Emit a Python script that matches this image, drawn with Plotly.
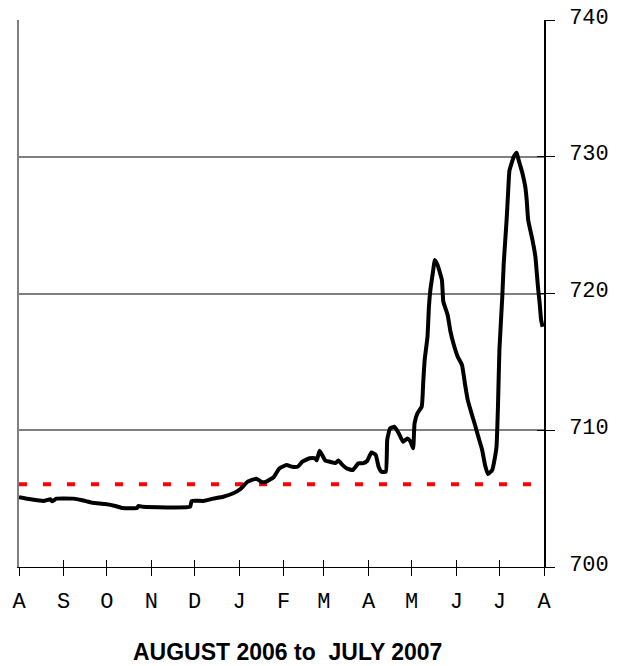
import plotly.graph_objects as go

# ---- data ----
dates = [
    "2006-08-01", "2006-08-09", "2006-08-18", "2006-08-23", "2006-08-24", "2006-08-27",
    "2006-09-08", "2006-09-14", "2006-09-21", "2006-09-30", "2006-10-07", "2006-10-12",
    "2006-10-22", "2006-10-23", "2006-10-26", "2006-11-28", "2006-11-29", "2006-12-07",
    "2006-12-14", "2006-12-21", "2006-12-28", "2007-01-02", "2007-01-07", "2007-01-13",
    "2007-01-17", "2007-01-20", "2007-01-25", "2007-01-29", "2007-02-03", "2007-02-07",
    "2007-02-11", "2007-02-14", "2007-02-19", "2007-02-23", "2007-02-24", "2007-02-26",
    "2007-03-02", "2007-03-05", "2007-03-09", "2007-03-11", "2007-03-14", "2007-03-17",
    "2007-03-21", "2007-03-25", "2007-03-28", "2007-03-31", "2007-04-03", "2007-04-06",
    "2007-04-08", "2007-04-10", "2007-04-13", "2007-04-14", "2007-04-16", "2007-04-19",
    "2007-04-22", "2007-04-25", "2007-04-28", "2007-04-30", "2007-05-02", "2007-05-03",
    "2007-05-05", "2007-05-08", "2007-05-09", "2007-05-10", "2007-05-12", "2007-05-13",
    "2007-05-14", "2007-05-16", "2007-05-17", "2007-05-19", "2007-05-22", "2007-05-23",
    "2007-05-26", "2007-05-28", "2007-05-30", "2007-06-02", "2007-06-05", "2007-06-07",
    "2007-06-09", "2007-06-12", "2007-06-14", "2007-06-16", "2007-06-19", "2007-06-21",
    "2007-06-23", "2007-06-26", "2007-06-28", "2007-06-29", "2007-06-30", "2007-07-01",
    "2007-07-03", "2007-07-04", "2007-07-06", "2007-07-07", "2007-07-08", "2007-07-11",
    "2007-07-13", "2007-07-14", "2007-07-17", "2007-07-19", "2007-07-20", "2007-07-21",
    "2007-07-24", "2007-07-26", "2007-07-27", "2007-07-28", "2007-07-29", "2007-07-30",
    "2007-07-31",
]
levels = [
    705.10, 704.95, 704.83, 704.95, 704.80, 705.00,
    705.00, 704.88, 704.70, 704.60, 704.46, 704.31,
    704.31, 704.46, 704.41, 704.41, 704.83, 704.83,
    705.00, 705.14, 705.39, 705.70, 706.24, 706.46,
    706.20, 706.25, 706.56, 707.20, 707.46, 707.33,
    707.35, 707.70, 707.95, 707.95, 707.80, 708.50,
    707.78, 707.70, 707.60, 707.78, 707.45, 707.20,
    707.09, 707.58, 707.58, 707.75, 708.38, 708.20,
    707.33, 706.97, 706.97, 709.30, 710.14, 710.26,
    709.78, 709.16, 709.40, 709.20, 708.68, 710.50,
    711.24, 711.73, 713.43, 715.10, 716.84, 719.03,
    720.26, 721.72, 722.45, 722.08, 720.99, 719.40,
    718.43, 717.20, 716.36, 715.38, 714.77, 713.43,
    712.20, 711.10, 710.40, 709.65, 708.56, 707.46,
    706.80, 707.09, 708.07, 708.80, 711.73, 715.87,
    719.77, 722.20, 725.37, 727.30, 729.00, 730.00,
    730.30, 729.90, 728.80, 727.80, 726.80, 725.37,
    723.90, 722.70, 721.48, 720.26, 719.28, 718.06,
    717.57,
]
reference_level = 706.05
reference_span = ["2006-08-01", "2007-07-28"]

month_ticks = [
    "2006-08-01", "2006-09-01", "2006-10-01", "2006-11-01", "2006-12-01",
    "2007-01-01", "2007-02-01", "2007-03-01", "2007-04-01", "2007-05-01",
    "2007-06-01", "2007-07-01", "2007-08-01",
]
month_labels = ["A", "S", "O", "N", "D", "J", "F", "M", "A", "M", "J", "J", "A"]
y_ticks = [700, 710, 720, 730, 740]
y_labels = ["700", "710", "720", "730", "740"]
x_range = ["2006-08-01", "2007-08-01"]
y_range = [700, 740]
title_text = "AUGUST 2006 to  JULY 2007"

mono = "Liberation Mono, Courier New, monospace"

fig = go.Figure()

fig.add_trace(go.Scatter(
    x=reference_span, y=[reference_level, reference_level],
    mode="lines", line=dict(color="#ff0000", width=4, dash="8px,16px"),
    hoverinfo="skip", showlegend=False,
))
fig.add_trace(go.Scatter(
    x=dates, y=levels, mode="lines",
    line=dict(color="black", width=4, shape="spline", smoothing=0.4),
    showlegend=False,
))
# helper (empty) traces so the overlay axes are drawn
fig.add_trace(go.Scatter(x=[], y=[], xaxis="x2", yaxis="y2", showlegend=False, hoverinfo="skip"))
fig.add_trace(go.Scatter(x=[], y=[], xaxis="x", yaxis="y3", showlegend=False, hoverinfo="skip"))

fig.update_layout(
    width=621, height=666,
    margin=dict(l=19, r=77, t=20, b=99),
    plot_bgcolor="white", paper_bgcolor="white",
    showlegend=False,
    xaxis=dict(
        type="date", range=x_range, automargin=False,
        tickmode="array", tickvals=month_ticks, ticktext=month_labels,
        ticks="outside", ticklen=8, tickwidth=1, tickcolor="black",
        showline=True, linecolor="black", linewidth=1,
        showgrid=False, zeroline=False,
        tickfont=dict(family=mono, size=22, color="black"),
        ticklabelstandoff=6,
    ),
    xaxis2=dict(
        type="date", range=x_range, overlaying="x", anchor="y", side="bottom",
        automargin=False,
        tickmode="array", tickvals=month_ticks,
        ticks="inside", ticklen=7, tickwidth=1, tickcolor="black",
        showticklabels=False, showline=False, showgrid=False, zeroline=False,
    ),
    yaxis=dict(
        range=y_range, side="right", automargin=False,
        tickmode="array", tickvals=y_ticks, ticktext=y_labels,
        ticks="outside", ticklen=9, tickwidth=1, tickcolor="black",
        showline=True, linecolor="black", linewidth=1.5,
        showgrid=True, gridcolor="#808080", gridwidth=1.5,
        zeroline=False,
        tickfont=dict(family=mono, size=22, color="black"),
        ticklabelstandoff=10, ticklabelshift=-4,
    ),
    yaxis2=dict(
        range=y_range, overlaying="y", side="left", anchor="x", automargin=False,
        showline=True, linecolor="#808080", linewidth=2,
        showticklabels=False, ticks="", showgrid=False, zeroline=False,
    ),
    yaxis3=dict(
        range=y_range, overlaying="y", side="right", anchor="x", automargin=False,
        tickmode="array", tickvals=y_ticks,
        ticks="inside", ticklen=7, tickwidth=1, tickcolor="black",
        showticklabels=False, showline=False, showgrid=False, zeroline=False,
    ),
    annotations=[dict(
        text="<b>" + title_text + "</b>",
        xref="paper", yref="paper", x=0.512, y=-0.155,
        xanchor="center", yanchor="middle", showarrow=False,
        font=dict(family="Liberation Sans Narrow, Arial Narrow, Liberation Sans, Arial",
                  size=23, color="black"),
    )],
)

fig.write_html(
    "out.html",
    config={"displayModeBar": False},
    post_script="document.body.style.margin='0';document.body.style.overflow='hidden';",
)
